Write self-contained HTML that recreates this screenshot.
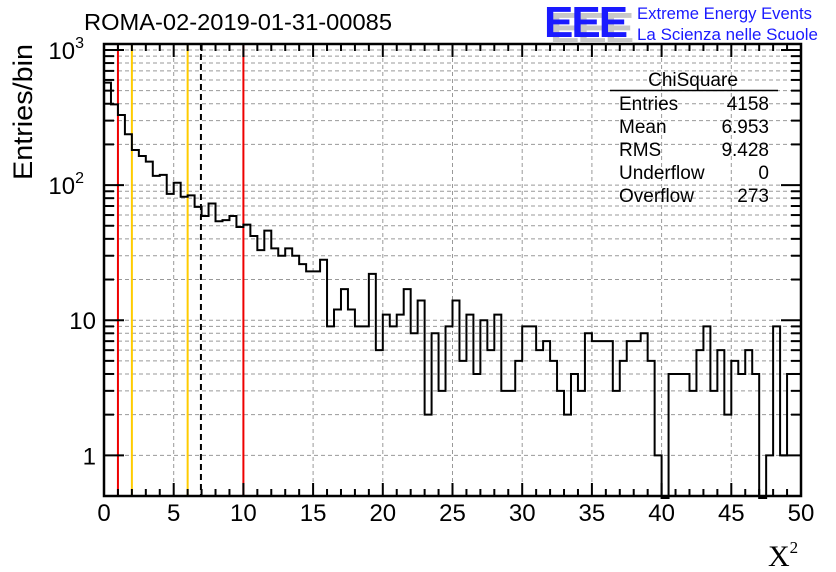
<!DOCTYPE html>
<html><head><meta charset="utf-8"><style>
html,body{margin:0;padding:0;background:#fff;}
svg{display:block;font-family:"Liberation Sans",Arial,sans-serif;}
</style></head><body>
<svg id="chart" width="836" height="572" viewBox="0 0 836 572" xmlns="http://www.w3.org/2000/svg">
<rect width="836" height="572" fill="#fff"/>
<g id="grid"></g>
<g id="vlines"></g>
<path id="hist" fill="none" stroke="#000" stroke-width="2"/>
<g id="axes"></g>
<text x="84" y="30" font-size="23.5" textLength="308" lengthAdjust="spacingAndGlyphs">ROMA-02-2019-01-31-00085</text>
<text transform="translate(32,180) rotate(-90)" font-size="27" textLength="136" lengthAdjust="spacingAndGlyphs">Entries/bin</text>
<text x="768" y="566" font-size="30" font-family="Liberation Serif,serif">X<tspan font-size="17" dy="-13">2</tspan></text>
<g>
<text x="550" y="43" font-size="44" font-weight="bold" fill="#c8c8c8" letter-spacing="-2">EEE</text>
<text x="544" y="37" font-size="44" font-weight="bold" fill="#1a1aff" letter-spacing="-2">EEE</text>
<text x="637" y="19" font-size="16.5" fill="#1a1aff" textLength="175" lengthAdjust="spacingAndGlyphs">Extreme Energy Events</text>
<text x="637" y="40" font-size="16.5" fill="#1a1aff" textLength="181" lengthAdjust="spacingAndGlyphs">La Scienza nelle Scuole</text>
</g>
<g font-size="19">
<text x="693" y="86" text-anchor="middle">ChiSquare</text>
<line x1="610" y1="90.5" x2="778" y2="90.5" stroke="#000" stroke-width="1.5"/>
<text x="619" y="110">Entries</text><text x="769" y="110" text-anchor="end">4158</text>
<text x="619" y="133">Mean</text><text x="769" y="133" text-anchor="end">6.953</text>
<text x="619" y="156">RMS</text><text x="769" y="156" text-anchor="end">9.428</text>
<text x="619" y="179">Underflow</text><text x="769" y="179" text-anchor="end">0</text>
<text x="619" y="202">Overflow</text><text x="769" y="202" text-anchor="end">273</text>
</g>
</svg>
<script>
const counts = [573,396,330,238,182,164,149,117,119,86,104,82,84,69,59,73,54,55,59,49,
51,42,33,46,34,30,34,30,26,23,23,28,9,12,17,12,9,9,22,6,
11,9,11,17,8,14,2,8,3,9,14,5,11,4,10,6,11,3,3,5,
9,9,6,7,5,3,2,4,3,8,7,7,7,3,5,7,7,8,5,1,
0,4,4,4,3,6,9,3,6,2,5,4,6,4,0,1,9,1,4,4];
const xTicks = [0,5,10,15,20,25,30,35,40,45,50];
const yTicks = [1,10,100,1000];
const yTickLabels = ["1","10","10","10"];
const yTickExp = ["","","2","3"];
const refLines = [1,10];
const goldLines = [2,6];
const meanLine = [6.953];

const X0=104,X1=801,Y0=496,Y1=44,XMIN=0,XMAX=50,YMIN=0.5,YMAX=1107;
const NS="http://www.w3.org/2000/svg";
function sx(v){return X0+(v-XMIN)/(XMAX-XMIN)*(X1-X0);}
function sy(v){v=Math.max(v,YMIN*0.5);return Y0-(Math.log10(v)-Math.log10(YMIN))/(Math.log10(YMAX)-Math.log10(YMIN))*(Y0-Y1);}
function mk(tag,attrs,parent){const e=document.createElementNS(NS,tag);for(const k in attrs)e.setAttribute(k,attrs[k]);parent.appendChild(e);return e;}
const grid=document.getElementById('grid'),axes=document.getElementById('axes'),vl=document.getElementById('vlines');
for(const t of xTicks){if(t===XMIN||t===XMAX)continue;
 const l=mk('line',{x1:sx(t),x2:sx(t),y1:Y1,y2:Y0,stroke:'#999','stroke-width':1,'stroke-dasharray':'4,3'},grid);
 
 }
for(let d=0;d<4;d++){for(let m=1;m<10;m++){const v=m*Math.pow(10,d);if(v<YMIN||v>YMAX)continue;
 const y=sy(v);
 const l=mk('line',{x1:X0,x2:X1,y1:y,y2:y,stroke:'#999','stroke-width':1,'stroke-dasharray':'4,3'},grid);
 
 
 const len=(m===1)?20:10;
 const a=mk('line',{x1:X0,x2:X0+len,y1:y,y2:y,stroke:'#000','stroke-width':2},axes);
 
 
 const b=mk('line',{x1:X1,x2:X1-len,y1:y,y2:y,stroke:'#000','stroke-width':2},axes);
 
 }}
function vline(v,color,dash,name){const l=mk('line',{x1:sx(v),x2:sx(v),y1:Y1,y2:Y0,stroke:color,'stroke-width':2},vl);
 if(dash)l.setAttribute('stroke-dasharray',dash);
 
 }
refLines.forEach(v=>vline(v,'#ee0000',null,'red-cut-line'));
goldLines.forEach(v=>vline(v,'#ffcc00',null,'gold-cut-line'));
meanLine.forEach(v=>vline(v,'#000','6,4','mean-line'));
const bw=(XMAX-XMIN)/counts.length;
let d='M'+sx(0)+','+Y0;
counts.forEach((c,i)=>{const y=c>0?sy(c):Y0+2;d+=' L'+sx(i*bw)+','+y+' L'+sx((i+1)*bw)+','+y;});
d+=' L'+sx(XMAX)+','+Y0;
document.getElementById('hist').setAttribute('d',d);
const fr=mk('rect',{x:X0,y:Y1,width:X1-X0,height:Y0-Y1,fill:'none',stroke:'#000','stroke-width':2.5},axes);


for(let v=XMIN;v<=XMAX;v+=1){const major=(v%5===0);const len=major?13:7;
 const t=mk('line',{x1:sx(v),x2:sx(v),y1:Y0,y2:Y0-len,stroke:'#000','stroke-width':2},axes);
 
 
 const t2=mk('line',{x1:sx(v),x2:sx(v),y1:Y1,y2:Y1+len,stroke:'#000','stroke-width':2},axes);
 
 }
xTicks.forEach(t=>{const e=mk('text',{x:sx(t),y:521,'font-size':24,'text-anchor':'middle'},axes);e.textContent=t;
 
 });
yTicks.forEach((t,i)=>{const e=mk('text',{x:yTickExp[i]?84:96,y:sy(t)+9,'font-size':24,'text-anchor':'end'},axes);
 e.textContent=yTickLabels[i];
 if(yTickExp[i]){const s=mk('tspan',{'font-size':16,dy:-11},e);s.textContent=yTickExp[i];}
 
 });
</script>
</body></html>
